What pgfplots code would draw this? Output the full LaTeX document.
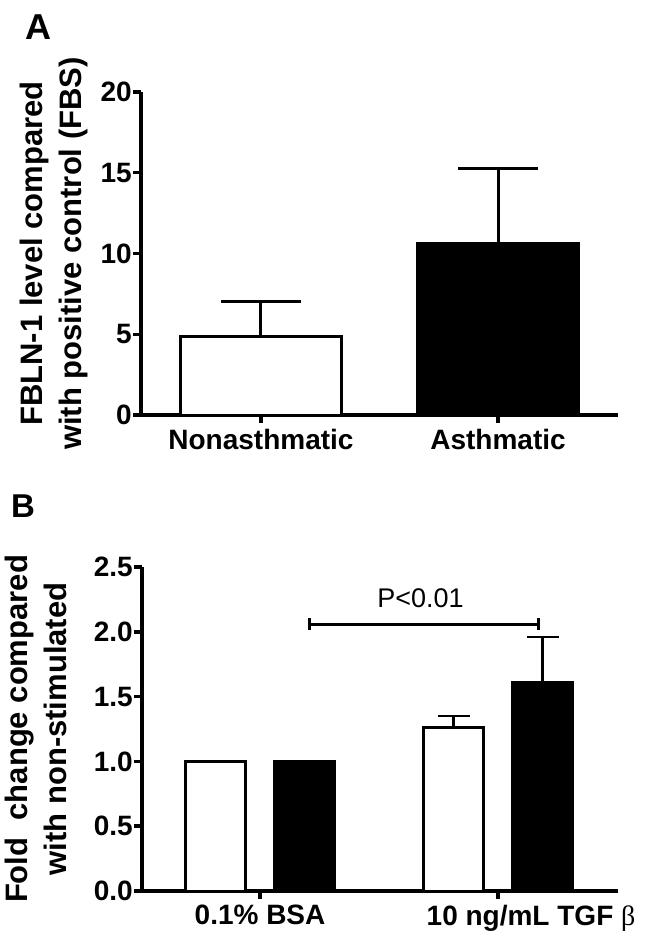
\documentclass[border=0pt]{standalone}
\usepackage{pgfplots}
\pgfplotsset{compat=1.18}
\usepackage{fontspec}
\setmainfont{Liberation Sans}
\newfontfamily\betafont{Liberation Serif}

\begin{document}
\begin{tikzpicture}
\useasboundingbox (0,0) rectangle (648pt,-931pt);
\pgfplotsset{
  panel/.style={
    scale only axis,
    axis x line*=bottom, axis y line*=left,
    axis line style={-},
    tick align=outside, major tick length=8pt,
    tick style={black},
    ymin=0, xtick={0,1},
    ybar, clip=false,
    /pgf/number format/assume math mode=true,
    yticklabel style={font=\fontsize{28}{32}\selectfont\bfseries, inner sep=0pt, xshift=-1pt},
    xticklabel style={font=\fontsize{28}{32}\selectfont\bfseries, inner sep=0pt, yshift=-6pt},
    ylabel style={font=\fontsize{31}{39}\selectfont\bfseries, align=center, inner sep=0pt, anchor=south},
  }
}

% panel A
\node[anchor=base west, font=\fontsize{36}{40}\selectfont\bfseries, inner sep=0pt] at (25pt,-40pt) {A};
\begin{axis}[panel,
  at={(141pt,-415pt)}, anchor=south west,
  width=477pt, height=323pt,
  xmin=-0.506, xmax=1.506, ymax=20,
  ytick={0,5,...,20},
  xticklabels={Nonasthmatic, Asthmatic},
  bar width=0.68,
  axis line style={line width=3.3pt},
  tick style={line width=3.3pt},
  ylabel={FBLN-1 level compared\\with positive control (FBS)},
  ylabel style={at={(axis description cs:-0.111,0.5)}},
]
\addplot[bar shift=0, fill=white, draw=black, line width=3pt,
  error bars/.cd, y dir=plus, y explicit,
  error bar style={line width=3pt},
  error mark options={rotate=90, line width=3pt, mark size=40pt}]
  coordinates {(0,4.85) +- (0,2.15)};
\addplot[bar shift=0, fill=black, draw=black, line width=3pt,
  error bars/.cd, y dir=plus, y explicit,
  error bar style={line width=3pt},
  error mark options={rotate=90, line width=3pt, mark size=40pt}]
  coordinates {(1,10.6) +- (0,4.65)};
\end{axis}

% panel B
\node[anchor=base west, font=\fontsize{33}{38}\selectfont\bfseries, inner sep=0pt] at (11pt,-517pt) {B};
\begin{axis}[panel,
  at={(142pt,-891pt)}, anchor=south west,
  width=476pt, height=324pt,
  xmin=-0.496, xmax=1.504, ymax=2.5,
  ytick={0,0.5,...,2.5},
  yticklabel={\pgfmathprintnumber[fixed, fixed zerofill, precision=1]{\tick}},
  xticklabels={0.1\% BSA, {\hspace*{66pt}10 ng/mL TGF {\betafont\mdseries β}}},
  bar width=0.252,
  axis line style={line width=3.5pt},
  tick style={line width=3.5pt},
  ylabel={Fold\ \ change compared\\with non-stimulated},
  ylabel style={at={(axis description cs:-0.158,0.5)}},
]
\addplot[bar shift=-0.187, fill=white, draw=black, line width=2.7pt,
  error bars/.cd, y dir=plus, y explicit,
  error bar style={line width=2.5pt},
  error mark options={rotate=90, line width=2.5pt, mark size=16pt}]
  coordinates {(1,1.26) +- (0,0.09)};
\addplot[bar shift=0.187, fill=black, draw=black, line width=2.7pt,
  error bars/.cd, y dir=plus, y explicit,
  error bar style={line width=2.5pt},
  error mark options={rotate=90, line width=2.5pt, mark size=16pt}]
  coordinates {(1,1.61) +- (0,0.35)};
\addplot[bar shift=-0.187, fill=white, draw=black, line width=2.7pt]
  coordinates {(0,1.0)};
\addplot[bar shift=0.187, fill=black, draw=black, line width=2.7pt]
  coordinates {(0,1.0)};
\draw[line width=3pt] (axis cs:0.206,2.06) -- (axis cs:1.168,2.06);
\draw[line width=3pt] (axis cs:0.206,2.013) -- (axis cs:0.206,2.107);
\draw[line width=3pt] (axis cs:1.168,2.013) -- (axis cs:1.168,2.107);
\node[anchor=base, font=\fontsize{27}{32}\selectfont, inner sep=0pt] at (axis cs:0.674,2.184) {P<0.01};
\end{axis}
\end{tikzpicture}
\end{document}
